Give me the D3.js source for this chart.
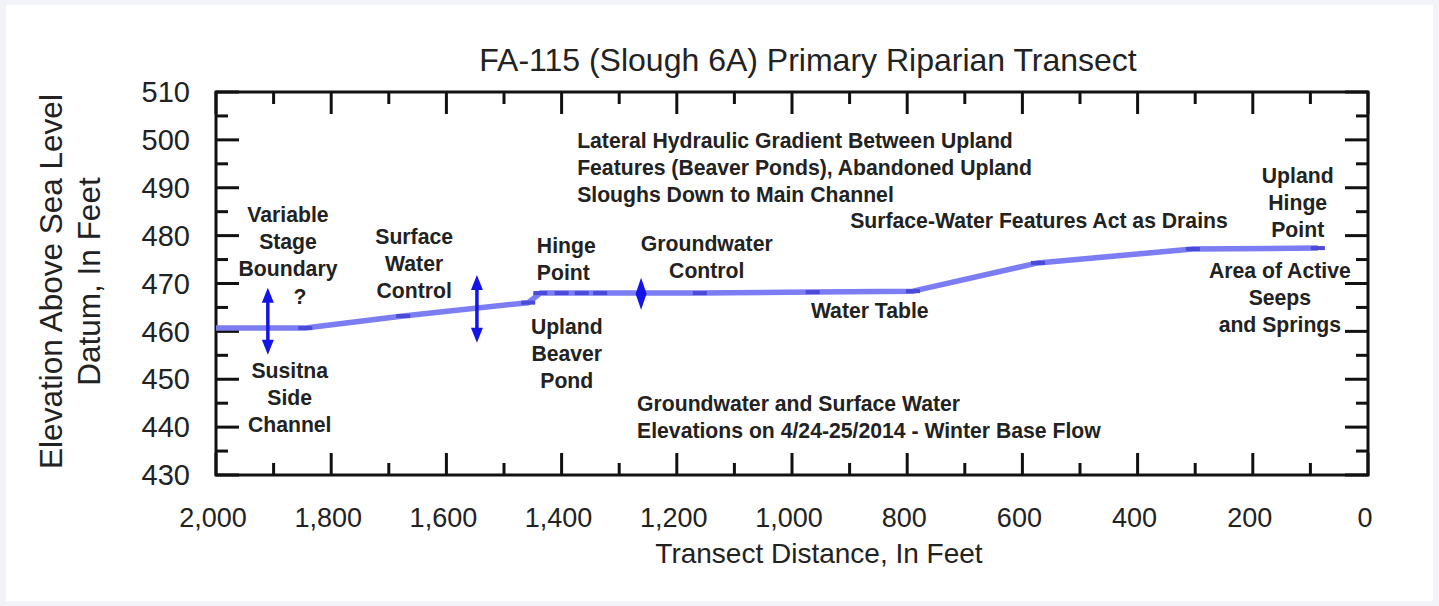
<!DOCTYPE html>
<html lang="en">
<head>
<meta charset="UTF-8">
<title>FA-115 Primary Riparian Transect</title>
<style>
  body { margin: 0; background: #f1f3f8; font-family: "Liberation Sans", Arial, sans-serif; }
  #chart { position: absolute; left: 0; top: 0; }
</style>
</head>
<body>
<div id="chart"></div>
<script src="https://d3js.org/d3.v7.min.js"></script>
<script>
// transect profile: distance (ft) and water elevation (ft)
const distance  = [2000, 1845, 1675, 1458, 1437, 1400, 1365, 1333, 1160, 964, 790, 573, 304, 87];
const elevation = [460.7, 460.7, 463.2, 466.0, 468.0, 468.0, 468.0, 468.0, 468.0, 468.2, 468.4, 474.3, 477.2, 477.4];

const xTicks = [2000, 1800, 1600, 1400, 1200, 1000, 800, 600, 400, 200, 0];
const yTicks = [430, 440, 450, 460, 470, 480, 490, 500, 510];

// double arrows: [distance, low, high]
const arrows = [[1910, 455.1, 469.1], [1547, 457.6, 471.8]];
const diamond = [1262, 464.5, 471.2];

// annotations: distance, elevation of first line, anchor, lines
const notes = [
  [1875, 484.5, "middle", ["Variable", "Stage", "Boundary"]],
  [1854, 467.2, "middle", ["?"]],
  [1872, 451.9, "middle", ["Susitna", "Side", "Channel"]],
  [1656, 479.9, "middle", ["Surface", "Water", "Control"]],
  [1443, 478.0, "start", ["Hinge", "Point"]],
  [1391, 460.9, "middle", ["Upland", "Beaver", "Pond"]],
  [1148, 478.3, "middle", ["Groundwater", "Control"]],
  [1373, 499.8, "start", ["Lateral Hydraulic Gradient Between Upland", "Features (Beaver Ponds), Abandoned Upland", "Sloughs Down to Main Channel"]],
  [899, 483.1, "start", ["Surface-Water Features Act as Drains"]],
  [865, 464.3, "middle", ["Water Table"]],
  [122, 492.5, "middle", ["Upland", "Hinge", "Point"]],
  [153, 472.6, "middle", ["Area of Active", "Seeps", "and Springs"]],
  [1269, 445.0, "start", ["Groundwater and Surface Water", "Elevations on 4/24-25/2014 - Winter Base Flow"]]
];

const W = 1439, H = 606;
const margin = { top: 92, right: 71, bottom: 131, left: 216 };
const width = W - margin.left - margin.right;
const height = H - margin.top - margin.bottom;

const root = d3.select("#chart").append("svg")
    .attr("width", W).attr("height", H);

root.append("rect")
    .attr("x", 6).attr("y", 5).attr("width", W - 12).attr("height", H - 10)
    .attr("fill", "#ffffff");

const svg = root.append("g").attr("transform", `translate(${margin.left},${margin.top})`);

const x = d3.scaleLinear().domain([2000, 0]).range([0, width]);
const y = d3.scaleLinear().domain([430, 510]).range([height, 0]);

// ticks (inward, on all four sides)
const xMinor = d3.range(0, 2001, 100);
const yMinor = d3.range(430, 511, 5);
const tickColor = "#111";

function isMajorX(v) { return v % 200 === 0; }
function isMajorY(v) { return v % 10 === 0; }

svg.selectAll(".xt-bottom").data(xMinor).enter().append("line")
    .attr("x1", d => x(d)).attr("x2", d => x(d))
    .attr("y1", height).attr("y2", d => height - (isMajorX(d) ? 22 : 12))
    .attr("stroke", tickColor).attr("stroke-width", 3);
svg.selectAll(".xt-top").data(xMinor).enter().append("line")
    .attr("x1", d => x(d)).attr("x2", d => x(d))
    .attr("y1", 0).attr("y2", d => (isMajorX(d) ? 22 : 12))
    .attr("stroke", tickColor).attr("stroke-width", 3);
svg.selectAll(".yt-left").data(yMinor).enter().append("line")
    .attr("y1", d => y(d)).attr("y2", d => y(d))
    .attr("x1", 0).attr("x2", d => (isMajorY(d) ? 23 : 12))
    .attr("stroke", tickColor).attr("stroke-width", 3);
svg.selectAll(".yt-right").data(yMinor).enter().append("line")
    .attr("y1", d => y(d)).attr("y2", d => y(d))
    .attr("x1", width).attr("x2", d => width - (isMajorY(d) ? 23 : 12))
    .attr("stroke", tickColor).attr("stroke-width", 3);

svg.append("rect")
    .attr("width", width).attr("height", height)
    .attr("fill", "none").attr("stroke", tickColor).attr("stroke-width", 3);

// tick labels
svg.selectAll(".xl").data(xTicks).enter().append("text")
    .attr("x", d => x(d) - 3).attr("y", height + 43)
    .attr("dy", "0.35em").attr("text-anchor", "middle")
    .attr("font-size", 27).attr("fill", "#222")
    .text(d => d3.format(",")(d));
svg.selectAll(".yl").data(yTicks).enter().append("text")
    .attr("x", -26).attr("y", d => y(d))
    .attr("dy", "0.35em").attr("text-anchor", "end")
    .attr("font-size", 29).attr("fill", "#222")
    .text(d => d);

// axis titles
svg.append("text")
    .attr("x", width / 2 + 27).attr("y", height + 78)
    .attr("dy", "0.35em").attr("text-anchor", "middle")
    .attr("font-size", 28).attr("fill", "#222")
    .text("Transect Distance, In Feet");

const yTitle = svg.append("text")
    .attr("transform", `translate(-165,${height / 2 - 2}) rotate(-90)`)
    .attr("text-anchor", "middle").attr("font-size", 31.5).attr("fill", "#222");
yTitle.append("tspan").attr("x", 0).attr("dy", "0.35em").text("Elevation Above Sea Level");
yTitle.append("tspan").attr("x", 0).attr("dy", "1.22em").text("Datum, In Feet");

root.append("text")
    .attr("x", 808).attr("y", 60).attr("dy", "0.35em")
    .attr("text-anchor", "middle").attr("font-size", 32).attr("fill", "#222")
    .text("FA-115 (Slough 6A) Primary Riparian Transect");

// water surface profile
const pts = distance.map((d, i) => [d, elevation[i]]);
svg.append("path")
    .datum(pts)
    .attr("d", d3.line().x(d => x(d[0])).y(d => y(d[1])))
    .attr("fill", "none").attr("stroke", "#7c7cf3").attr("stroke-width", 5.5)
    .attr("stroke-linejoin", "round");

svg.selectAll(".mk").data(pts.slice(1)).enter().append("rect")
    .attr("x", d => x(d[0]) - 7).attr("y", d => y(d[1]) - 2)
    .attr("width", 14).attr("height", 4)
    .attr("fill", "#4a4ad8");

// double-headed arrows
const blue = "#1414e6";
arrows.forEach(a => {
  const ax = x(a[0]), y0 = y(a[1]), y1 = y(a[2]);
  svg.append("line")
      .attr("x1", ax).attr("x2", ax).attr("y1", y0 - 8).attr("y2", y1 + 8)
      .attr("stroke", blue).attr("stroke-width", 3.5);
  svg.append("path")
      .attr("d", `M${ax},${y1} L${ax - 6},${y1 + 15} L${ax + 6},${y1 + 15} Z`)
      .attr("fill", blue);
  svg.append("path")
      .attr("d", `M${ax},${y0} L${ax - 6},${y0 - 15} L${ax + 6},${y0 - 15} Z`)
      .attr("fill", blue);
});

const dx = x(diamond[0]), dLo = y(diamond[1]), dHi = y(diamond[2]);
svg.append("path")
    .attr("d", `M${dx},${dHi} L${dx + 5.5},${(dHi + dLo) / 2} L${dx},${dLo} L${dx - 5.5},${(dHi + dLo) / 2} Z`)
    .attr("fill", blue);

// annotations
notes.forEach(n => {
  const t = svg.append("text")
      .attr("x", x(n[0])).attr("y", y(n[1]))
      .attr("text-anchor", n[2])
      .attr("font-size", 21.2).attr("font-weight", "bold").attr("fill", "#222");
  n[3].forEach((line, i) => {
    t.append("tspan").attr("x", x(n[0]))
        .attr("dy", i === 0 ? "0.35em" : "27px")
        .text(line);
  });
});
</script>
</body>
</html>
